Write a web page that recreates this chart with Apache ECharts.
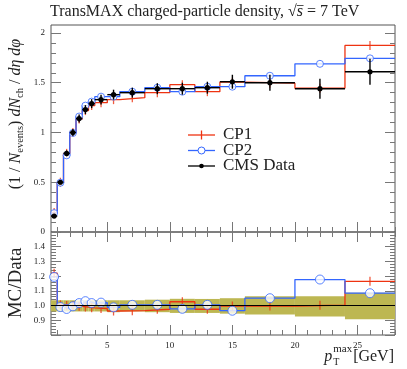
<!DOCTYPE html>
<html><head><meta charset="utf-8">
<script src="https://cdn.jsdelivr.net/npm/echarts@6/dist/echarts.min.js"></script>
<style>html,body{margin:0;padding:0;background:#fff}#c{width:407px;height:369px}</style>
</head><body><div id="c"></div>
<script>
// ---- data ----
const binEdges = [0.5,1,1.5,2,2.5,3,3.5,4,5,6,8,10,12,14,16,20,24,28];
const dataVals = [0.16,0.50,0.79,1.00,1.14,1.23,1.29,1.33,1.38,1.40,1.44,1.44,1.45,1.51,1.50,1.44,1.61];
const dataErr  = [0.01,0.02,0.03,0.035,0.04,0.045,0.045,0.05,0.05,0.05,0.055,0.06,0.06,0.07,0.08,0.10,0.13];
const cp1Vals  = [0.195,0.50,0.79,1.00,1.135,1.22,1.27,1.30,1.33,1.35,1.40,1.48,1.41,1.505,1.495,1.445,1.875];
const cp2Vals  = [0.19,0.495,0.77,0.995,1.16,1.27,1.31,1.36,1.36,1.41,1.45,1.41,1.46,1.46,1.57,1.69,1.745];
const cp1Ratio = [1.22,1.005,1.0,1.0,0.995,0.99,0.985,0.98,0.963,0.965,0.975,1.026,0.975,0.997,0.997,1.003,1.165];
const cp2Ratio = [1.195,0.99,0.977,0.995,1.017,1.03,1.017,1.02,0.988,1.005,1.005,0.978,1.005,0.965,1.05,1.177,1.084];
const bandLow  = [0.96,0.96,0.96,0.96,0.96,0.96,0.96,0.96,0.955,0.96,0.955,0.95,0.95,0.945,0.94,0.925,0.907];
const bandHigh = [1.036,1.036,1.036,1.036,1.036,1.036,1.036,1.036,1.036,1.036,1.04,1.046,1.045,1.05,1.064,1.064,1.087];
const xMajorTicks = [5,10,15,20,25];
const yMainTicks = [0,0.5,1,1.5,2];
const yRatioLabels = [0.9,1.0,1.1,1.2,1.3,1.4];

// ---- helpers ----
const FONT = 'Liberation Serif';
const RED = '#ee3311', BLUE = '#3366ff', OLIVE = '#bdb752', FRAME = '#555', TXT = '#222';
function range(a, b, s) { const r = []; for (let v = a; v <= b + 1e-9; v += s) r.push(Math.round(v * 1000) / 1000); return r; }
const xMinor = range(1, 28, 1);
const yMainMinor = range(0, 2.08, 0.1);
const yRatioMajor = range(0.8, 1.5, 0.1);
const yRatioMinor = range(0.8, 1.5, 0.02);

const ctx = document.createElement('canvas').getContext('2d');
function tw(text, font) { ctx.font = font; return ctx.measureText(text).width; }

const n = dataVals.length;
const centers = dataVals.map((_, i) => (binEdges[i] + binEdges[i + 1]) / 2);
const stepData = vals => binEdges.map((e, i) => [e, vals[Math.min(i, n - 1)]]);
const ptData = vals => vals.map((v, i) => [centers[i], v]);

function xAx(grid, pos, ticks, len, labels) {
  return {
    type: 'value', gridIndex: grid, position: pos, min: 0.5, max: 28,
    axisLine: { show: false }, splitLine: { show: false },
    axisTick: { show: true, inside: true, length: len, customValues: ticks, lineStyle: { color: '#777', width: 1 } },
    axisLabel: labels ? { show: true, customValues: labels, fontFamily: FONT, fontSize: 9, color: TXT, margin: 6 } : { show: false }
  };
}
function yAx(grid, pos, min, max, ticks, len, labels, fmt) {
  return {
    type: 'value', gridIndex: grid, position: pos, min: min, max: max,
    axisLine: { show: false }, splitLine: { show: false },
    axisTick: { show: true, inside: true, length: len, customValues: ticks, lineStyle: { color: '#777', width: 1 } },
    axisLabel: labels ? { show: true, showMinLabel: true, showMaxLabel: true, customValues: labels, fontFamily: FONT, fontSize: 9, color: TXT, margin: 6, formatter: fmt } : { show: false }
  };
}

// title pieces
const titleFont = '16px "' + FONT + '"';
const titlePre = 'TransMAX charged-particle density, √';
const sqrtX = 50 + tw(titlePre, titleFont);
const sW = tw('s', 'italic ' + titleFont);

// x title pieces
const bigF = '16px "' + FONT + '"', bigI = 'italic 16px "' + FONT + '"', smF = '10px "' + FONT + '"', supF = '11px "' + FONT + '"';
const wP = tw('p', bigI), wT = tw('T', smF), wMax = tw('max', supF), wG = tw('[GeV]', bigF);
const xtRight = 394;
const xtStart = xtRight - (wP + 1 + Math.max(wT, wMax) + 1 + wG);
const xtTop = 349;

const option = {
  animation: false,
  backgroundColor: '#fff',
  grid: [
    { left: 51, right: 12, top: 25, height: 207, show: true, borderColor: FRAME, borderWidth: 1, backgroundColor: 'transparent' },
    { left: 51, right: 12, top: 232, height: 103, show: true, borderColor: FRAME, borderWidth: 1, backgroundColor: 'transparent' }
  ],
  xAxis: [
    xAx(0, 'bottom', xMajorTicks, 10, null),
    xAx(0, 'bottom', xMinor, 5, null),
    xAx(0, 'top', xMajorTicks, 10, null),
    xAx(0, 'top', xMinor, 5, null),
    xAx(1, 'bottom', xMajorTicks, 10, xMajorTicks),
    xAx(1, 'bottom', xMinor, 5, null),
    xAx(1, 'top', xMajorTicks, 10, null),
    xAx(1, 'top', xMinor, 5, null)
  ],
  yAxis: [
    yAx(0, 'left', 0, 2.08, yMainTicks, 10, yMainTicks, v => String(v)),
    yAx(0, 'left', 0, 2.08, yMainMinor, 5, null),
    yAx(0, 'right', 0, 2.08, yMainTicks, 10, null),
    yAx(0, 'right', 0, 2.08, yMainMinor, 5, null),
    yAx(1, 'left', 0.8, 1.5, yRatioMajor, 10, yRatioLabels, v => v.toFixed(1)),
    yAx(1, 'left', 0.8, 1.5, yRatioMinor, 5, null),
    yAx(1, 'right', 0.8, 1.5, yRatioMajor, 10, null),
    yAx(1, 'right', 0.8, 1.5, yRatioMinor, 5, null)
  ],
  series: [
    // ---- main panel ----
    { type: 'line', xAxisIndex: 0, yAxisIndex: 0, step: 'end', data: stepData(cp1Vals), showSymbol: false, lineStyle: { color: RED, width: 1.3 }, z: 3 },
    { type: 'line', xAxisIndex: 0, yAxisIndex: 0, step: 'end', data: stepData(cp2Vals), showSymbol: false, lineStyle: { color: BLUE, width: 1.3 }, z: 3 },
    { type: 'scatter', xAxisIndex: 0, yAxisIndex: 0, data: ptData(cp1Vals), symbol: 'rect', symbolSize: [1.3, 9], itemStyle: { color: RED }, z: 4 },
    { type: 'scatter', xAxisIndex: 0, yAxisIndex: 0, data: ptData(cp2Vals), symbol: 'circle', symbolSize: 7, itemStyle: { color: '#fff', borderColor: BLUE, borderWidth: 1 }, z: 4 },
    { type: 'custom', xAxisIndex: 0, yAxisIndex: 0, z: 5,
      data: dataVals.map((v, i) => [binEdges[i], binEdges[i + 1], centers[i], v, dataErr[i]]),
      encode: { x: [0, 1], y: 3 },
      renderItem: (p, api) => {
        const x0 = api.value(0), x1 = api.value(1), xc = api.value(2), y = api.value(3), e = api.value(4);
        const a = api.coord([x0, y]), b = api.coord([x1, y]), lo = api.coord([xc, y - e]), hi = api.coord([xc, y + e]);
        const st = { stroke: '#000', lineWidth: 1.4 };
        return { type: 'group', children: [
          { type: 'line', shape: { x1: a[0], y1: a[1], x2: b[0], y2: b[1] }, style: st },
          { type: 'line', shape: { x1: lo[0], y1: lo[1], x2: hi[0], y2: hi[1] }, style: st },
          { type: 'circle', shape: { cx: a[0] + (b[0] - a[0]) / 2, cy: a[1], r: 2.6 }, style: { fill: '#000' } }
        ] };
      }
    },
    // ---- ratio panel ----
    { type: 'custom', xAxisIndex: 4, yAxisIndex: 4, z: 1, clip: true,
      data: bandLow.map((lo, i) => [binEdges[i], binEdges[i + 1], lo, bandHigh[i]]),
      encode: { x: [0, 1], y: [2, 3] },
      renderItem: (p, api) => {
        const a = api.coord([api.value(0), api.value(3)]), b = api.coord([api.value(1), api.value(2)]);
        return { type: 'rect', shape: { x: a[0], y: a[1], width: b[0] - a[0], height: b[1] - a[1] }, style: { fill: OLIVE } };
      },
      markLine: { silent: true, symbol: 'none', label: { show: false }, lineStyle: { color: '#000', width: 1, type: 'solid' }, data: [{ yAxis: 1 }] }
    },
    { type: 'line', xAxisIndex: 4, yAxisIndex: 4, step: 'end', data: stepData(cp1Ratio), showSymbol: false, lineStyle: { color: RED, width: 1.3 }, z: 3 },
    { type: 'line', xAxisIndex: 4, yAxisIndex: 4, step: 'end', data: stepData(cp2Ratio), showSymbol: false, lineStyle: { color: BLUE, width: 1.3 }, z: 3 },
    { type: 'scatter', xAxisIndex: 4, yAxisIndex: 4, data: ptData(cp1Ratio), symbol: 'rect', symbolSize: [1.3, 9], itemStyle: { color: RED }, z: 4 },
    { type: 'scatter', xAxisIndex: 4, yAxisIndex: 4, data: ptData(cp2Ratio), symbol: 'circle', symbolSize: 9, itemStyle: { color: '#fff', borderColor: BLUE, borderWidth: 1 }, z: 4 }
  ],
  graphic: [
    { type: 'text', x: 50, y: 4, style: { font: titleFont, fill: TXT, verticalAlign: 'top',
      text: titlePre + '{it|s} = 7 TeV',
      rich: { it: { fontFamily: FONT, fontSize: 16, fontStyle: 'italic', fill: TXT } } } },
    { type: 'line', shape: { x1: sqrtX, y1: 5.5, x2: sqrtX + sW + 0.5, y2: 5.5 }, style: { stroke: TXT, lineWidth: 0.8 } },
    { type: 'text', x: 16, y: 114, rotation: Math.PI / 2, style: { fill: TXT, align: 'center', verticalAlign: 'middle',
      text: '{n|(1 / }{i|N}{s|events}{n|) }{i|dN}{s|ch}{n| / }{i|dη dφ}',
      rich: {
        n: { fontFamily: FONT, fontSize: 16, lineHeight: 19, fill: TXT },
        i: { fontFamily: FONT, fontSize: 16, fontStyle: 'italic', lineHeight: 19, fill: TXT },
        s: { fontFamily: FONT, fontSize: 10.5, lineHeight: 10, verticalAlign: 'bottom', fill: TXT }
      } } },
    { type: 'text', x: 16, y: 283, rotation: Math.PI / 2, style: { text: 'MC/Data', font: '19px "' + FONT + '"', fill: TXT, align: 'center', verticalAlign: 'middle' } },
    // x axis title p_T^max [GeV]
    { type: 'text', x: xtStart, y: xtTop, style: { text: 'p', font: bigI, fill: TXT, verticalAlign: 'top' } },
    { type: 'text', x: xtStart + wP + 1, y: xtTop + 8, style: { text: 'T', font: smF, fill: TXT, verticalAlign: 'top' } },
    { type: 'text', x: xtStart + wP + 1, y: xtTop - 5, style: { text: 'max', font: supF, fill: TXT, verticalAlign: 'top' } },
    { type: 'text', x: xtStart + wP + 2 + Math.max(wT, wMax), y: xtTop, style: { text: '[GeV]', font: bigF, fill: TXT, verticalAlign: 'top' } },
    // legend
    { type: 'line', shape: { x1: 188, y1: 135, x2: 215, y2: 135 }, style: { stroke: RED, lineWidth: 1.3 } },
    { type: 'line', shape: { x1: 201.5, y1: 130.5, x2: 201.5, y2: 139.5 }, style: { stroke: RED, lineWidth: 1.3 } },
    { type: 'text', x: 223, y: 135, style: { text: 'CP1', font: '17px "' + FONT + '"', fill: TXT, verticalAlign: 'middle' } },
    { type: 'line', shape: { x1: 188, y1: 150.5, x2: 215, y2: 150.5 }, style: { stroke: BLUE, lineWidth: 1.3 } },
    { type: 'circle', shape: { cx: 201.5, cy: 150.5, r: 3.5 }, style: { fill: '#fff', stroke: BLUE, lineWidth: 1 } },
    { type: 'text', x: 223, y: 150.5, style: { text: 'CP2', font: '17px "' + FONT + '"', fill: TXT, verticalAlign: 'middle' } },
    { type: 'line', shape: { x1: 188, y1: 166, x2: 215, y2: 166 }, style: { stroke: '#000', lineWidth: 1.3 } },
    { type: 'circle', shape: { cx: 201.5, cy: 166, r: 2.3 }, style: { fill: '#000' } },
    { type: 'text', x: 223, y: 166, style: { text: 'CMS Data', font: '17px "' + FONT + '"', fill: TXT, verticalAlign: 'middle' } }
  ]
};
echarts.init(document.getElementById('c')).setOption(option);
</script></body></html>
